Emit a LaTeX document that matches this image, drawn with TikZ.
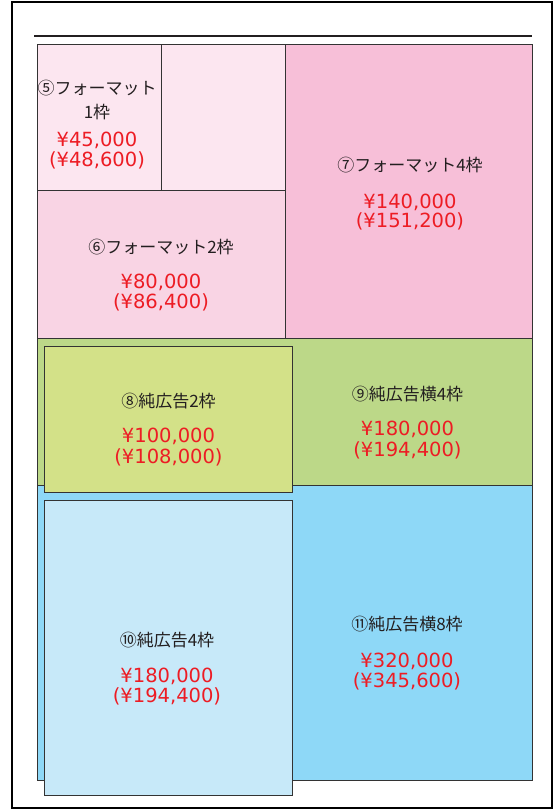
\documentclass[tikz,border=0pt]{standalone}
\usepackage{fontspec}
\newfontfamily\jpfont{Noto Sans CJK JP}
\newfontfamily\pricefont{DejaVu Sans}
\definecolor{fivec}{HTML}{FCE6F0}
\definecolor{sixc}{HTML}{F9D4E4}
\definecolor{sevenc}{HTML}{F7BFD8}
\definecolor{ninec}{HTML}{BCD888}
\definecolor{eightc}{HTML}{D3E188}
\definecolor{elevenc}{HTML}{8ED8F7}
\definecolor{tenc}{HTML}{C7E9F9}
\definecolor{pricered}{HTML}{ED1C24}
\definecolor{labeldark}{HTML}{231F20}
\definecolor{edgec}{HTML}{333333}
\begin{document}
\begin{tikzpicture}[x=1pt,y=-1pt,
  cell/.style={draw=edgec,line width=1pt},
  lbl/.style={anchor=base,inner sep=0pt,text=labeldark,font=\jpfont\fontsize{17}{20}\selectfont},
  prc/.style={anchor=base,inner sep=0pt,text=pricered,font=\pricefont\fontsize{19.5}{22}\selectfont}]
\useasboundingbox (0,0) rectangle (555,810);
\fill[white] (0,0) rectangle (555,810);
% outer frame and top rule
\draw[black,line width=2pt] (12,2) rectangle (552,808);
\draw[labeldark,line width=2pt] (34,35.7) -- (532,35.7);
% pink blocks
\draw[cell,fill=fivec] (37,44.5) rectangle (161,191);
\draw[cell,fill=fivec] (161,44.5) rectangle (285,191);
\draw[cell,fill=sixc] (37,191) rectangle (285,338);
\draw[cell,fill=sevenc] (285,44.5) rectangle (532.5,338);
% green and blue areas
\draw[cell,fill=ninec] (37,338) rectangle (532.5,485);
\draw[cell,fill=elevenc] (37,485) rectangle (532.5,780);
\draw[cell,fill=eightc] (44.5,346) rectangle (292.5,492.5);
\draw[cell,fill=tenc] (44.5,500) rectangle (292.5,795.5);
% texts
\node[lbl] (l5a) at (97,94.5) {⑤フォーマット};
\node[lbl] (l5b) at (97,118.5) {1枠};
\node[prc] (p5a) at (97,146.7) {¥45,000};
\node[prc] (p5b) at (97,166.7) {(¥48,600)};
\node[lbl] (l6) at (161,253) {⑥フォーマット2枠};
\node[prc] (p6a) at (161,288.7) {¥80,000};
\node[prc] (p6b) at (161,308.7) {(¥86,400)};
\node[lbl] (l7) at (410,171.5) {⑦フォーマット4枠};
\node[prc] (p7a) at (410,208) {¥140,000};
\node[prc] (p7b) at (410,227.5) {(¥151,200)};
\node[lbl] (l8) at (168.5,407.5) {⑧純広告2枠};
\node[prc] (p8a) at (168.5,442.7) {¥100,000};
\node[prc] (p8b) at (168.5,463.7) {(¥108,000)};
\node[lbl] (l9) at (407.5,400) {⑨純広告横4枠};
\node[prc] (p9a) at (407.5,435.3) {¥180,000};
\node[prc] (p9b) at (407.5,456.3) {(¥194,400)};
\node[lbl] (l10) at (167,646.5) {⑩純広告4枠};
\node[prc] (p10a) at (167,682) {¥180,000};
\node[prc] (p10b) at (167,702) {(¥194,400)};
\node[lbl] (l11) at (407,630.5) {⑪純広告横8枠};
\node[prc] (p11a) at (407,667) {¥320,000};
\node[prc] (p11b) at (407,687) {(¥345,600)};
\end{tikzpicture}
\end{document}
